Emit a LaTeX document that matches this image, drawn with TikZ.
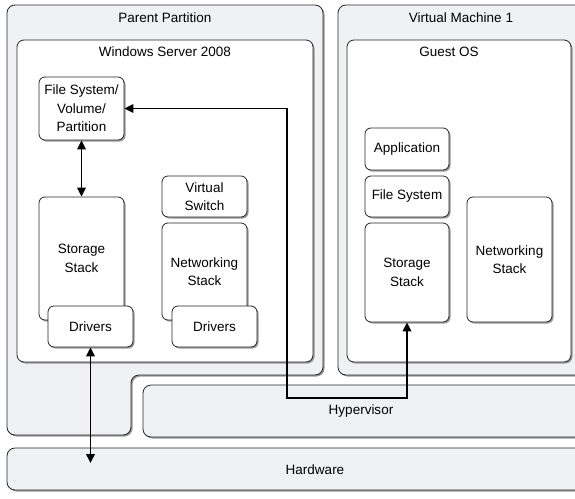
\documentclass[tikz,border=0pt]{standalone}
\usepackage{fontspec}
\setmainfont{Liberation Sans}
\usetikzlibrary{arrows.meta,shadows}
\definecolor{panel}{RGB}{240,241,243}
\tikzset{
  myshadow/.style={drop shadow={shadow xshift=1.5pt, shadow yshift=-1.5pt, fill=black!40, opacity=1}},
  part/.style={draw=black!85, line width=0.8pt, fill=panel, rounded corners=8pt, myshadow},
  host/.style={draw=black!85, line width=0.8pt, fill=white, rounded corners=7pt, myshadow},
  blk/.style={draw=black!85, line width=0.8pt, fill=white, rounded corners=6pt, align=center, inner sep=0pt, myshadow},
  lbl/.style={inner sep=0pt},
  link/.style={line width=1.9pt, {Triangle[length=9pt,width=8.5pt]}-{Triangle[length=9pt,width=8.5pt]}}
}

\begin{document}
\begin{tikzpicture}[x=1pt, y=-1pt, font=\fontsize{13.5}{18.5}\selectfont]
		%%%%% START %%%%%
		\useasboundingbox (0, 0) rectangle (575, 498);
		\clip (0, 0) rectangle (575, 498);
		
		% partitions
		\draw[part] (7, 5) -- (323, 5) -- (323, 375) -- (131, 375) -- (131, 435) -- (7, 435) -- cycle;
		\draw[part] (338, 5) rectangle (590, 375);
		\draw[host] (17, 40) rectangle (313, 362);
		\draw[host] (347, 40) rectangle (571, 362);
		
		\node[lbl] (pplbl) at (165, 18) {Parent Partition};
		\node[lbl] (vmlbl) at (461, 18) {Virtual Machine 1};
		\node[lbl] (wslbl) at (165, 52) {Windows Server 2008};
		\node[lbl] (goslbl) at (449, 52) {Guest OS};
		
		% hypervisor and hardware
		\draw[part] (143, 385) rectangle (590, 437);
		\draw[part] (7, 448) rectangle (630, 490);
		\node[lbl] (hyp) at (361, 411) {Hypervisor};
		\node[lbl] (hw) at (315, 470) {Hardware};
		
		% parent partition blocks
		\node[blk, minimum width=85pt, minimum height=63pt] (fsv) at (81.5, 108.5) {File System/\\Volume/\\Partition};
		\node[blk, minimum width=85pt, minimum height=123pt] (stor) at (81.5, 258.5) {Storage\\Stack};
		\node[blk, minimum width=85pt, minimum height=41pt] (drv) at (90.5, 326.5) {Drivers};
		
		\node[blk, minimum width=85pt, minimum height=41pt] (vsw) at (204.5, 196.5) {Virtual\\Switch};
		\node[blk, minimum width=85pt, minimum height=97pt] (net) at (204.5, 271.5) {Networking\\Stack};
		\node[blk, minimum width=85pt, minimum height=41pt] (ndrv) at (214.5, 326.5) {Drivers};
		
		% guest blocks
		\node[blk, minimum width=84pt, minimum height=42pt] (app) at (407, 149) {Application};
		\node[blk, minimum width=84pt, minimum height=41pt] (gfs) at (407, 196.5) {File System};
		\node[blk, minimum width=84pt, minimum height=99pt] (gstor) at (407, 272.5) {Storage\\Stack};
		\node[blk, minimum width=85pt, minimum height=125pt] (gnet) at (509.5, 259.5) {Networking\\Stack};
		
		% links
		\coordinate (hwend) at (90.5, 463);
		\coordinate (bend) at (287, 398);
		\draw[link] (fsv.south) -- (stor.north);
		\draw[link] (drv.south) -- (hwend);
		\draw[link] (fsv.east) -| (bend) -| (gstor.south);
		
		%%%%% END %%%%%
\end{tikzpicture}
\end{document}
